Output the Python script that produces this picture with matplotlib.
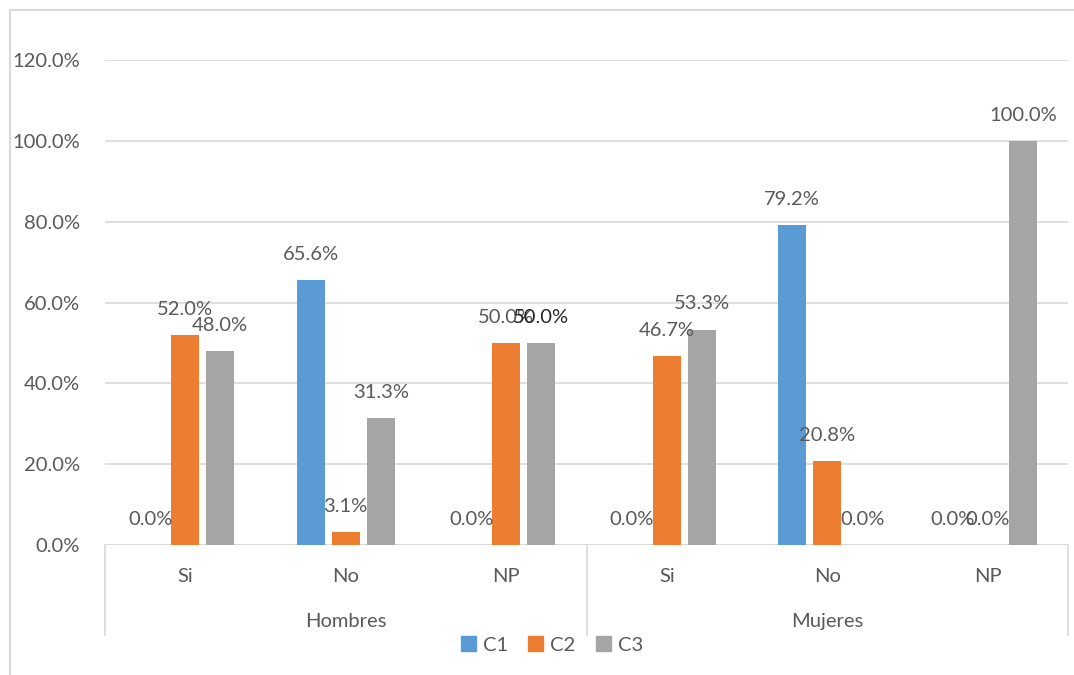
import matplotlib
matplotlib.use("Agg")
import matplotlib.pyplot as plt
from matplotlib.lines import Line2D
import numpy as np

plt.rcParams['font.family'] = ['Lato', 'DejaVu Sans']

groups = ["Hombres", "Mujeres"]
categories = ["Si", "No", "NP", "Si", "No", "NP"]
series = ["C1", "C2", "C3"]
c1 = [0.0, 65.6, 0.0, 0.0, 79.2, 0.0]
c2 = [52.0, 3.1, 50.0, 46.7, 20.8, 0.0]
c3 = [48.0, 31.3, 50.0, 53.3, 0.0, 100.0]
colors = ["#5B9BD5", "#ED7D31", "#A5A5A5"]
yticks = [0, 20, 40, 60, 80, 100, 120]

text_color = "#595959"
grid_color = "#D9D9D9"
fs = 14.5

fig = plt.figure(figsize=(10.74, 6.75), dpi=100)
ax = fig.add_axes([105/1074, 1 - 545/675, (1068 - 105)/1074, 485/675])

x = np.arange(len(categories))
width = 0.1745
step = 0.218
values = [c1, c2, c3]
for k, (vals, col) in enumerate(zip(values, colors)):
    pos = x + (k - 1) * step
    ax.bar(pos, vals, width=width, color=col, zorder=3)
    for i, (px, v) in enumerate(zip(pos, vals)):
        tc = "#262626" if (k == 2 and i == 2) else text_color
        ax.annotate(f"{v:.1f}%", (px, v), xytext=(0, 18.5), textcoords="offset points",
                    ha="center", va="center", fontsize=fs, color=tc, zorder=4)

ax.set_xlim(-0.5, len(categories) - 0.5)
ax.set_ylim(0, 120)
ax.set_yticks(yticks)
ax.set_yticklabels([f"{t:.1f}%" for t in yticks])
ax.tick_params(axis="y", length=0, pad=18, labelsize=fs, labelcolor=text_color)
ax.set_xticks([])
ax.yaxis.grid(True, color=grid_color, linewidth=1.2, zorder=0)
for s in ax.spines.values():
    s.set_visible(False)
ax.axhline(0, color=grid_color, linewidth=1.2, zorder=2)

# category and group labels below the axis
tr = ax.get_xaxis_transform()
for i, c in enumerate(categories):
    ax.text(i, -0.064, c, transform=tr, ha="center", va="center",
            fontsize=fs, color=text_color, clip_on=False)
for g, name in enumerate(groups):
    ax.text(g * 3 + 1, -0.157, name, transform=tr, ha="center", va="center",
            fontsize=fs, color=text_color, clip_on=False)
for xb in [-0.5, 2.5, 5.5]:
    ax.add_line(Line2D([xb, xb], [0, -0.186], transform=tr, color=grid_color,
                       linewidth=1.2, clip_on=False))

# legend
handles = [plt.Rectangle((0, 0), 1, 1, color=c) for c in colors]
fig.legend(handles, series, loc="center", bbox_to_anchor=(552/1074, 1 - 645/675),
           ncol=3, frameon=False, fontsize=fs, handlelength=0.75, handleheight=0.75,
           handletextpad=0.35, columnspacing=1.0, labelcolor=text_color)

# outer chart frame
fig.add_artist(Line2D([10/1074, 10/1074], [0, 1 - 10/675], transform=fig.transFigure,
                      color=grid_color, linewidth=1.5))
fig.add_artist(Line2D([10/1074, 1], [1 - 10/675, 1 - 10/675], transform=fig.transFigure,
                      color=grid_color, linewidth=1.5))

fig.savefig("out.png", dpi=100)
